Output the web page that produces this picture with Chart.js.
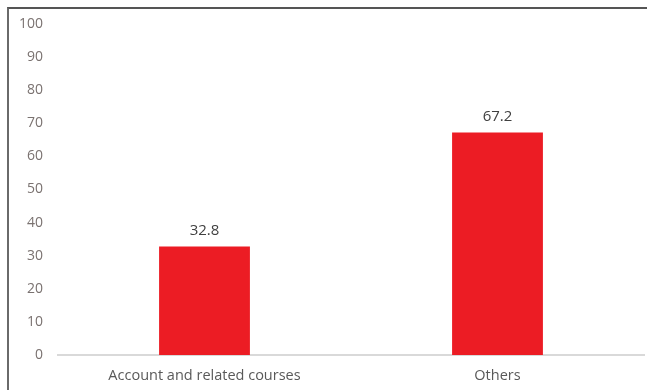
<!DOCTYPE html>
<html lang="en">
<head>
<meta charset="UTF-8">
<title>Courses</title>
<script src="https://cdn.jsdelivr.net/npm/chart.js@4.4.1/dist/chart.umd.min.js"></script>
<style>
    html, body { margin: 0; padding: 0; background: #ffffff; overflow: hidden; }
    #wrap { position: absolute; left: 0; top: 0; width: 647px; height: 390px; }
    #frame {
        position: absolute; left: 7px; top: 7px; width: 660px; height: 400px;
        border-top: 2px solid #555555; border-left: 2px solid #6a6a6a;
    }
</style>
</head>
<body>
<div id="frame"></div>
<div id="wrap"><canvas id="myChart"></canvas></div>

<script>
// valori del grafico
const categories = ['Account and related courses', 'Others'];
const percentages = [32.8, 67.2];
const yTicks = [0, 10, 20, 30, 40, 50, 60, 70, 80, 90, 100];

// scrive il valore sopra ogni barra
const valueLabels = {
    id: 'valueLabels',
    afterDatasetsDraw(chart) {
        const ctx = chart.ctx;
        const meta = chart.getDatasetMeta(0);
        ctx.save();
        ctx.font = '15px "Open Sans", sans-serif';
        ctx.fillStyle = '#404040';
        ctx.textAlign = 'center';
        ctx.textBaseline = 'middle';
        meta.data.forEach((bar, i) => {
            ctx.fillText(percentages[i].toFixed(1), bar.x, bar.y - 16);
        });
        ctx.restore();
    }
};

new Chart(document.getElementById('myChart'), {
    type: 'bar',
    data: {
        labels: categories,
        datasets: [{
            data: percentages,
            backgroundColor: '#ec1c24',
            borderWidth: 0,
            barPercentage: 0.62,
            categoryPercentage: 0.5
        }]
    },
    options: {
        responsive: true,
        maintainAspectRatio: false,
        animation: false,
        layout: { padding: { left: 0, right: 3, top: 24, bottom: 0 } },
        plugins: { legend: { display: false }, tooltip: { enabled: false } },
        scales: {
            x: {
                grid: { display: false, drawTicks: false },
                border: { display: true, color: '#d9d9d9', width: 2 },
                ticks: { color: '#595959', font: { family: 'Open Sans', size: 14.5 }, padding: 12, maxRotation: 0 },
                afterFit(scale) { scale.height = 35; }
            },
            y: {
                min: 0,
                max: 100,
                afterBuildTicks(scale) { scale.ticks = yTicks.map(v => ({ value: v })); },
                grid: { display: false, drawTicks: false },
                border: { display: false },
                ticks: { color: '#7a7270', font: { family: 'Open Sans', size: 14 }, padding: 15 },
                afterFit(scale) { scale.width = 58; }
            }
        }
    },
    plugins: [valueLabels]
});
</script>
</body>
</html>
